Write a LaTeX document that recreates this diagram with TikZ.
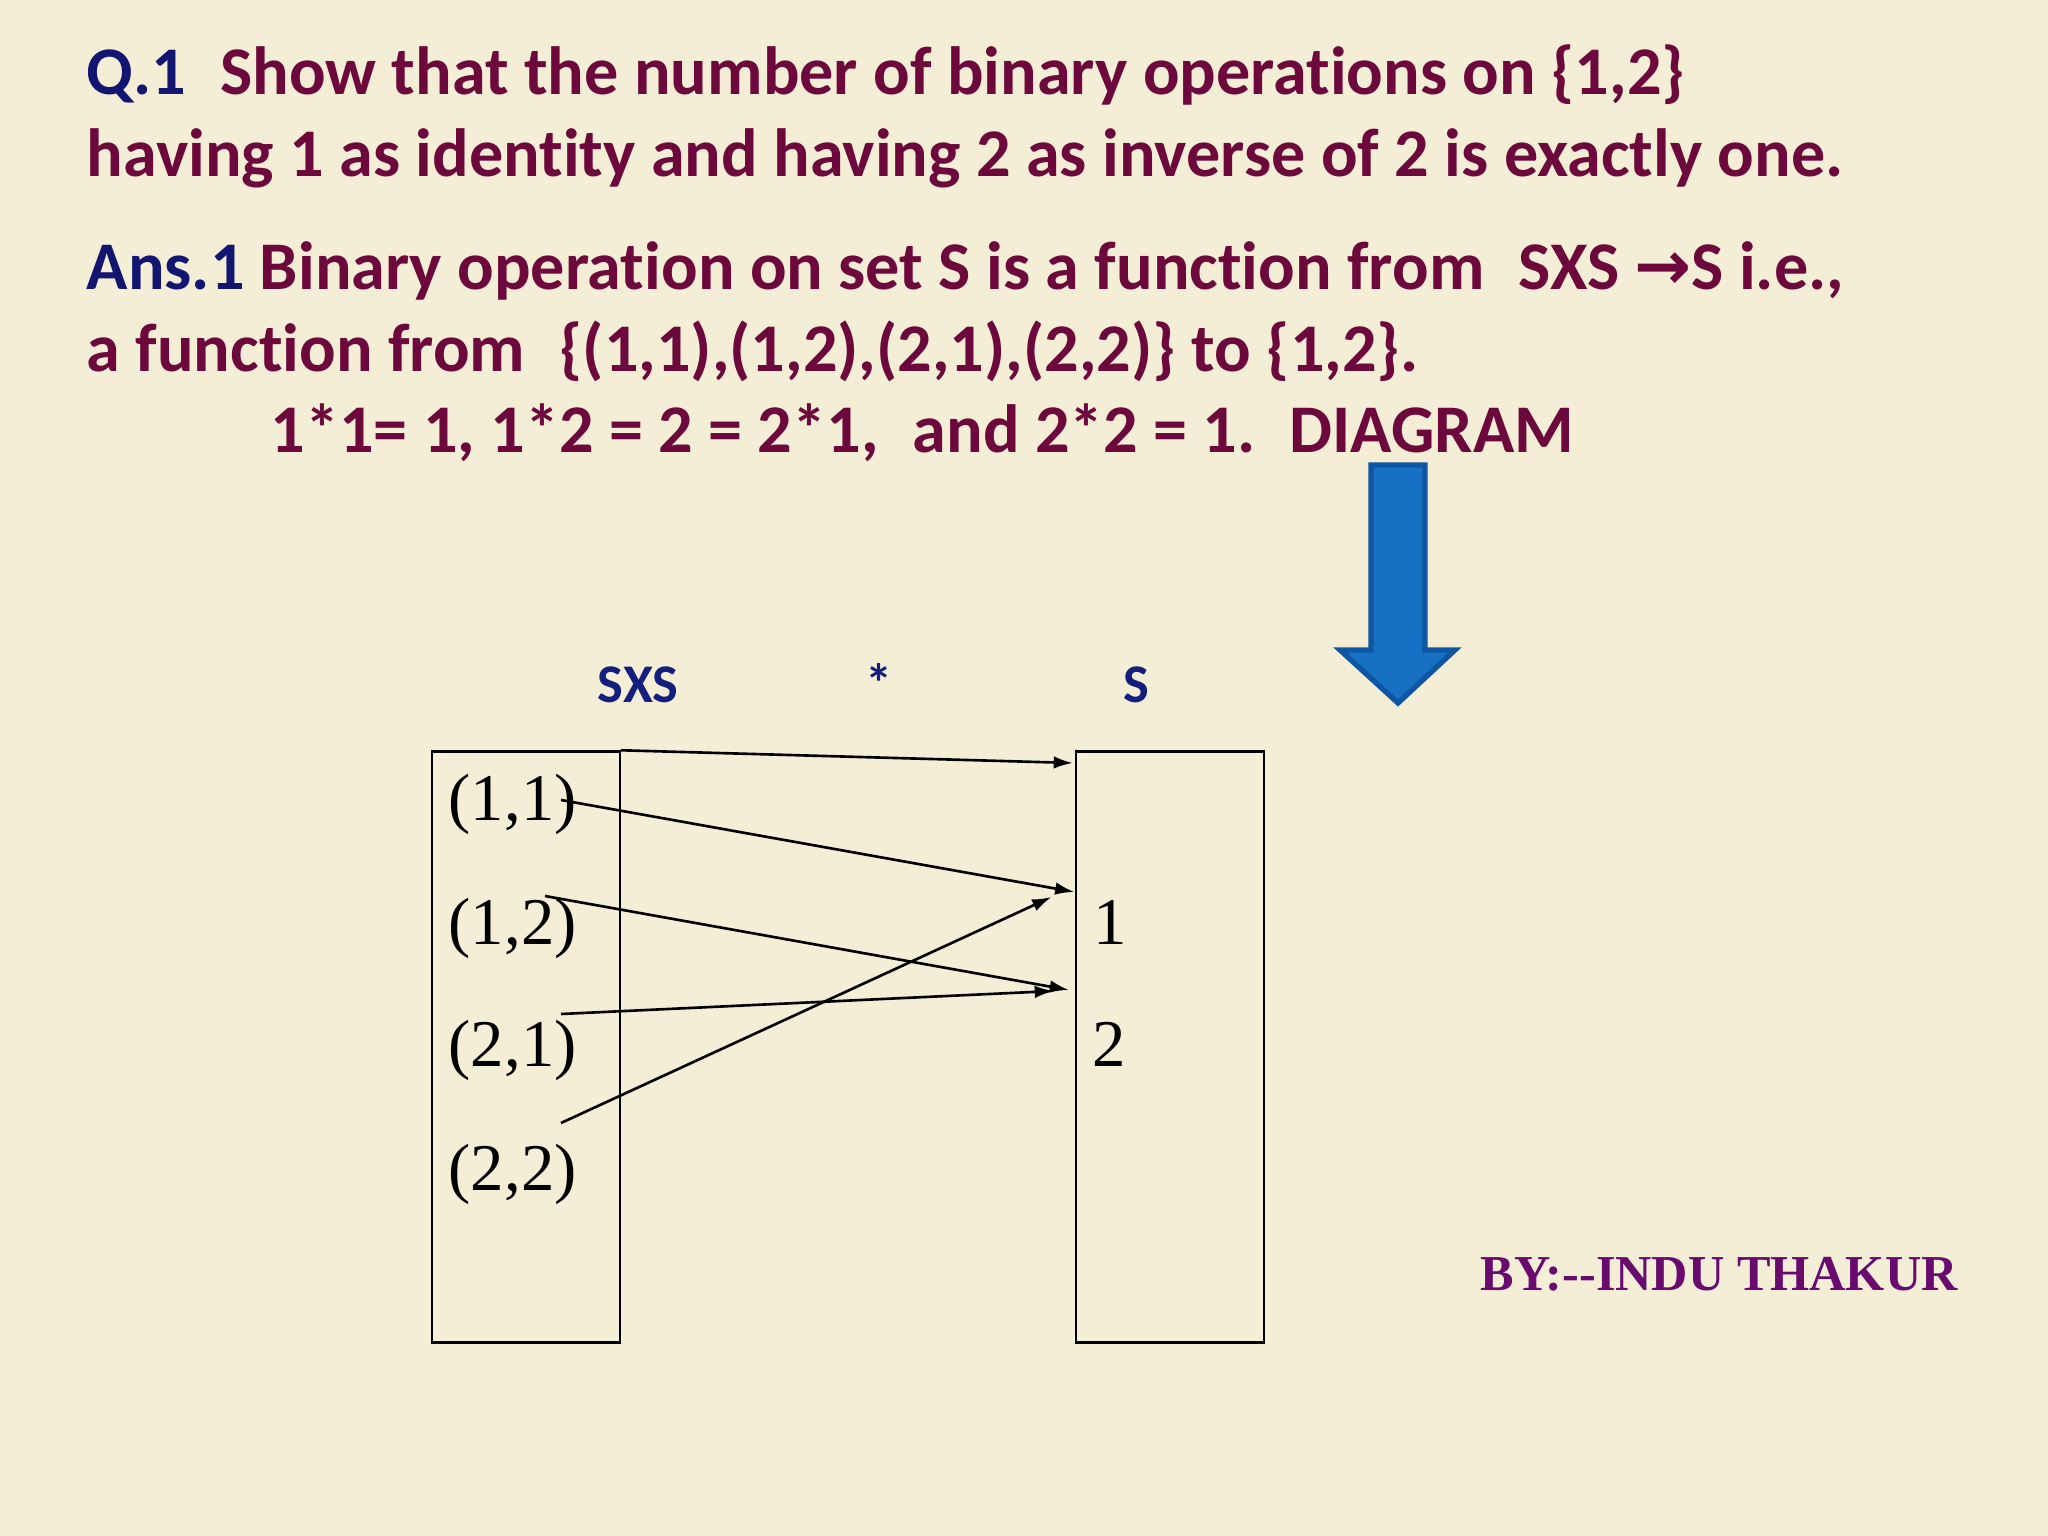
\documentclass[tikz,border=0pt]{standalone}
\usepackage{fontspec}
\setmainfont{Liberation Serif}
\newfontfamily\calibri[Ligatures=NoCommon]{Carlito}
\newfontfamily\arrfont{DejaVu Sans}
\usepackage{xcolor}
\usetikzlibrary{arrows.meta}

\definecolor{paper}{RGB}{244,238,214}
\definecolor{wine}{RGB}{108,8,60}
\definecolor{navy}{RGB}{18,22,112}
\definecolor{setblue}{RGB}{20,30,125}
\definecolor{authorpurple}{RGB}{104,10,110}
\definecolor{arrowfill}{RGB}{22,112,196}
\definecolor{arrowedge}{RGB}{14,86,162}

\begin{document}
\begin{tikzpicture}[x=1cm, y=1cm,
  textline/.style={font=\calibri\bfseries\fontsize{19.4}{22}\selectfont, text=wine, anchor=base west, inner sep=0pt},
  setname/.style={font=\calibri\bfseries\fontsize{15.5}{18}\selectfont, text=setblue, anchor=base, inner sep=0pt},
  elem/.style={font=\fontsize{19}{22}\selectfont, anchor=base west, inner sep=0pt},
  setbox/.style={draw, line width=0.7pt, minimum width=1.88cm, minimum height=5.91cm, inner sep=0pt},
  mapsto/.style={-{Latex[length=5.5pt,width=3.6pt]}, line width=0.75pt}]

\fill[paper] (0,0) rectangle (20.48,-15.36);
\useasboundingbox (0,0) rectangle (20.48,-15.36);

% Question
\node[textline] (q1) at (0.86,-0.95) {\textcolor{navy}{Q.1}\enspace Show that the number of binary operations on \{1,2\}};
\node[textline] (q2) at (0.86,-1.77) {having 1 as identity and having 2 as inverse of 2 is exactly one.};

% Answer
\node[textline] (a1) at (0.86,-2.90) {\textcolor{navy}{Ans.1} Binary operation on set S is a function from\enspace SXS {\arrfont\bfseries →}S i.e.,};
\node[textline] (a2) at (0.86,-3.72) {a function from\enspace \{(1,1),(1,2),(2,1),(2,2)\} to \{1,2\}.};
\node[textline] (a3) at (2.70,-4.53) {1*1= 1, 1*2 = 2 = 2*1,\enspace and 2*2 = 1.\enspace DIAGRAM};

% Blue arrow
\draw[fill=arrowfill, draw=arrowedge, line width=1.5pt, line join=miter]
  (13.71,-4.65) -- (14.25,-4.65) -- (14.25,-6.50) -- (14.55,-6.50) -- (13.98,-7.03)
  -- (13.40,-6.50) -- (13.71,-6.50) -- cycle;

% Sets
\node[setname] (sxs) at (6.38,-7.03) {SXS};
\node[setname] (star) at (8.79,-7.03) {*};
\node[setname] (s) at (11.365,-7.03) {S};

\node[setbox] (lbox) at (5.2575,-10.47) {};
\node[setbox] (rbox) at (11.70,-10.47) {};

% Elements
\node[elem] (p11) at (4.48,-8.21) {(1,1)};
\node[elem] (p12) at (4.48,-9.44) {(1,2)};
\node[elem] (p21) at (4.48,-10.67) {(2,1)};
\node[elem] (p22) at (4.48,-11.90) {(2,2)};
\node[elem] (s1) at (10.93,-9.44) {1};
\node[elem] (s2) at (10.92,-10.66) {2};

% Arrows
\coordinate (t0) at (10.73,-7.63);
\coordinate (f11) at (5.61,-8.00);
\coordinate (t11) at (10.745,-8.92);
\coordinate (f12) at (5.45,-8.96);
\coordinate (t12) at (10.69,-9.90);
\coordinate (f21) at (5.61,-10.14);
\coordinate (t21) at (10.54,-9.91);
\coordinate (f22) at (5.61,-11.23);
\coordinate (t22) at (10.515,-8.97);

\draw[mapsto] (lbox.north east) -- (t0);
\draw[mapsto] (f11) -- (t11);
\draw[mapsto] (f12) -- (t12);
\draw[mapsto] (f21) -- (t21);
\draw[mapsto] (f22) -- (t22);

% Author
\node[font=\bfseries\fontsize{14.3}{17}\selectfont, text=authorpurple, anchor=base west, inner sep=0pt] (author) at (14.80,-12.90) {BY:{-}{-}INDU THAKUR};

\end{tikzpicture}
\end{document}
